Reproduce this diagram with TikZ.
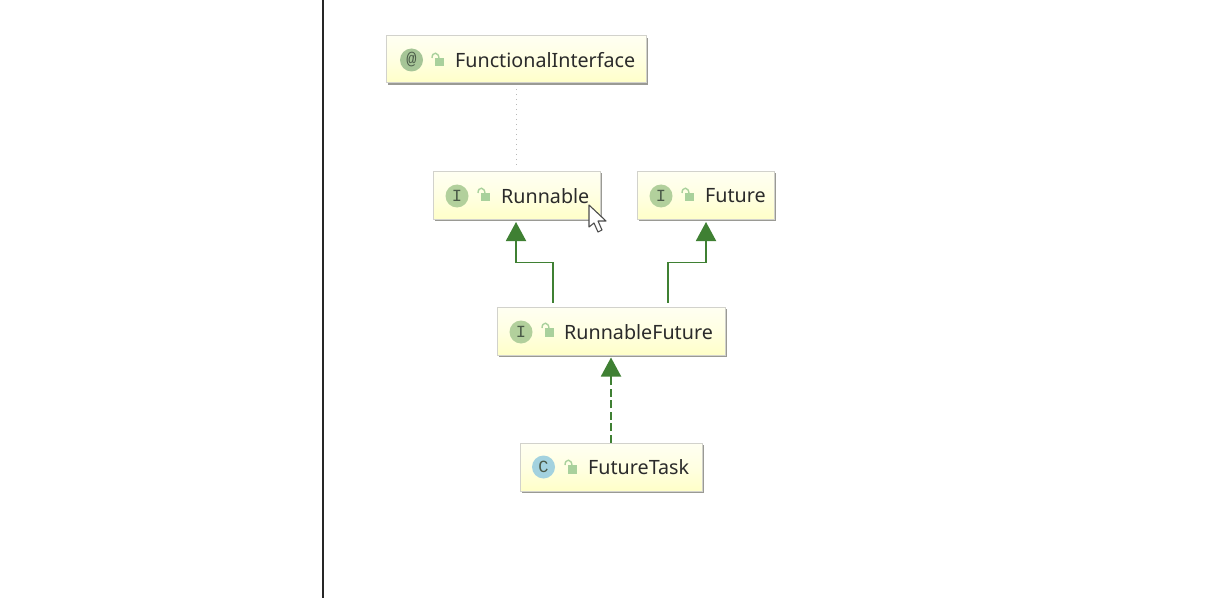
\documentclass[tikz,border=0pt]{standalone}
\usepackage{fontspec}
\setmainfont{Noto Sans}
\newfontfamily\iconfont{Liberation Mono}
\usetikzlibrary{shadows,arrows.meta}
\definecolor{edgeg}{HTML}{3F8033}
\definecolor{boxline}{HTML}{D2D2CC}
\definecolor{shadowg}{HTML}{9A9A94}
\definecolor{icong}{HTML}{B2D09C}
\definecolor{iconat}{HTML}{A6C597}
\definecolor{iconc}{HTML}{A3D2DF}
\definecolor{lockg}{HTML}{A9D19C}
\definecolor{labelc}{HTML}{2B2B2B}
\definecolor{badgetext}{HTML}{4A5A48}
\definecolor{boxtop}{HTML}{FFFFF2}
\definecolor{boxmid}{HTML}{FFFFE2}
\definecolor{boxbot}{HTML}{FFFFC8}
\tikzset{
  x=1pt,y=-1pt,
  umlbox/.style={draw=boxline,line width=1pt,top color=boxtop,bottom color=boxbot,
    middle color=boxmid,inner sep=0pt,
    drop shadow={shadow xshift=1.6pt,shadow yshift=-1.8pt,fill=shadowg,opacity=1}},
  boxlabel/.style={anchor=west,inner sep=0pt,text=labelc,font=\fontsize{19.7}{24}\selectfont},
  badge/.style={circle,minimum size=23pt,inner sep=0pt,text=badgetext,font=\iconfont\fontsize{17}{19}\selectfont},
  realize/.style={edgeg,line width=1.9pt},
  bigtip/.style={-{Triangle[length=19pt,width=20pt,fill=edgeg]},shorten >=2pt},
}
\newcommand{\lockat}[2]{%
  \fill[lockg] (#1,#2) rectangle (#1+8.5,#2+8.5);
  \draw[lockg,line width=1.4pt] (#1-3,#2) .. controls (#1-3,#2-6.5) and (#1+4,#2-6.5) .. (#1+4,#2+1);
}
\begin{document}
\begin{tikzpicture}
\useasboundingbox (0,0) rectangle (1212,604);
\fill[white] (0,0) rectangle (1212,604);
\coordinate (railtop) at (323,0);
\coordinate (railend) at (323,598);
\draw[black!85,line width=1.6pt] (railtop) -- (railend);

\node[umlbox,minimum width=260pt,minimum height=47pt] (fi) at (516.5,59.5) {};
\node[umlbox,minimum width=167pt,minimum height=48pt] (run) at (516.5,195.5) {};
\node[umlbox,minimum width=137pt,minimum height=48pt] (fut) at (705.5,195.5) {};
\node[umlbox,minimum width=228pt,minimum height=48pt] (rf) at (611,331) {};
\node[umlbox,minimum width=182pt,minimum height=48pt] (ft) at (611,467) {};

\node[badge,fill=iconat] (fiI) at (411.5,60) {@};
\node[badge,fill=icong] (runI) at (457,196) {I};
\node[badge,fill=icong] (futI) at (661,196) {I};
\node[badge,fill=icong] (rfI) at (521,332) {I};
\node[badge,fill=iconc] (ftI) at (543.5,467) {C};

\lockat{435}{58}
\lockat{481}{193}
\lockat{685}{193}
\lockat{545}{328}
\lockat{568}{465}

\node[boxlabel] (fiL) at (455,60) {FunctionalInterface};
\node[boxlabel] (runL) at (501,196) {Runnable};
\node[boxlabel] (futL) at (705,196) {Future};
\node[boxlabel] (rfL) at (564,332) {RunnableFuture};
\node[boxlabel] (ftL) at (588,467) {FutureTask};

\draw[black!28,line width=1pt,dash pattern=on 1pt off 4pt]
  ([yshift=-6pt]fi.south) -- ([yshift=6pt]run.north);
\draw[realize,bigtip] ([xshift=-58pt,yshift=4pt]rf.north) |- (534,262.5) -| ([xshift=-0.5pt]run.south);
\draw[realize,bigtip] ([xshift=57pt,yshift=4pt]rf.north) |- (686,262.5) -| ([xshift=0.5pt]fut.south);
\draw[realize,dash pattern=on 8pt off 3.5pt] (ft.north) -- (611,376);
\draw[realize,bigtip] (611,378) -- (rf.south);

% mouse pointer
\draw[black!70,fill=white,line width=1.1pt,line join=round]
  (589,205) -- (589,227) -- (594,223) -- (598,232) -- (602,230) -- (598,221) -- (606,221) -- cycle;
\end{tikzpicture}
\end{document}
